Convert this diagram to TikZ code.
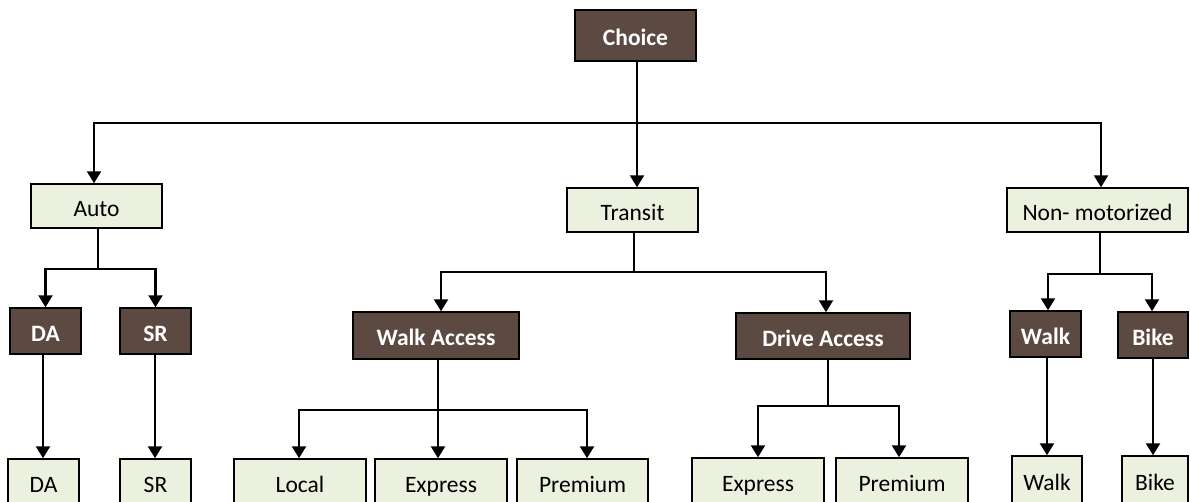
\documentclass[tikz,border=0pt]{standalone}
\usepackage{fontspec}
\setmainfont{Carlito}
\usetikzlibrary{arrows.meta}
\definecolor{darkbox}{HTML}{5C4A42}
\definecolor{lightbox}{HTML}{EBF1DE}
\tikzset{
  basebox/.style={draw=black, line width=1.5pt, inner sep=0pt, anchor=center, text height=20pt, text depth=0pt},
  dbox/.style={basebox, fill=darkbox, text=white, font=\fontsize{23.5}{28}\selectfont\bfseries},
  lbox/.style={basebox, fill=lightbox, text=black, font=\fontsize{23.5}{28}\selectfont},
  conn/.style={draw=black, line width=2.3pt},
  arr/.style={conn, -{Triangle[width=14pt,length=12pt]}}
}
\begin{document}
\begin{tikzpicture}[x=1pt,y=-1pt]
\useasboundingbox (0,0) rectangle (1190,501);
\clip (0,0) rectangle (1190,501);
% top level
\node[dbox, minimum width=121pt, minimum height=51pt] (choice) at (635.5,35.5) {Choice};
% second level
\node[lbox, minimum width=131pt, minimum height=44pt] (auto) at (96.5,206) {Auto};
\node[lbox, minimum width=131pt, minimum height=44pt] (transit) at (632.5,210) {Transit};
\node[lbox, minimum width=181pt, minimum height=44pt] (nonmot) at (1097.5,210) {Non- motorized};
% third level
\node[dbox, minimum width=71pt, minimum height=46pt] (da) at (45.5,331) {DA};
\node[dbox, minimum width=71pt, minimum height=46pt] (sr) at (155.5,331) {SR};
\node[dbox, minimum width=166pt, minimum height=47pt] (walkacc) at (436,335.5) {Walk Access};
\node[dbox, minimum width=174pt, minimum height=46pt] (driveacc) at (823,336) {Drive Access};
\node[dbox, minimum width=71pt, minimum height=46pt] (walk) at (1045.5,334) {Walk};
\node[dbox, minimum width=70pt, minimum height=46pt] (bike) at (1153,335) {Bike};
% bottom level (cut off by the page edge)
\node[lbox, minimum width=71pt, minimum height=60pt] (bda) at (43.5,489) {\raisebox{7pt}{DA}};
\node[lbox, minimum width=71pt, minimum height=60pt] (bsr) at (155.5,489) {\raisebox{7pt}{SR}};
\node[lbox, minimum width=132pt, minimum height=60pt] (local) at (300,489) {\raisebox{7pt}{Local}};
\node[lbox, minimum width=132pt, minimum height=60pt] (wexp) at (441,489) {\raisebox{7pt}{Express}};
\node[lbox, minimum width=131pt, minimum height=60pt] (wprem) at (582.5,489) {\raisebox{7pt}{Premium}};
\node[lbox, minimum width=132pt, minimum height=60pt] (dexp) at (758,488) {\raisebox{7pt}{Express}};
\node[lbox, minimum width=132pt, minimum height=60pt] (dprem) at (902,488) {\raisebox{7pt}{Premium}};
\node[lbox, minimum width=70pt, minimum height=60pt] (bwalk) at (1047,486) {\raisebox{6pt}{Walk}};
\node[lbox, minimum width=66pt, minimum height=60pt] (bbike) at (1155,486) {\raisebox{6pt}{Bike}};
% junctions
\coordinate (j0) at (637,123);
\coordinate (j1) at (98,269);
\coordinate (j2) at (634,272);
\coordinate (j3) at (438,410);
\coordinate (j4) at (828,406);
\coordinate (j5) at (1100,274);
% Choice
\draw[conn] (j0 |- choice.south) -- (j0);
\draw[arr] (j0) -| ([xshift=-2.5pt]auto.north);
\draw[arr] (j0) -- (j0 |- transit.north);
\draw[arr] (j0) -| ([xshift=3.5pt]nonmot.north);
% Auto
\draw[conn] (j1 |- auto.south) -- (j1);
\draw[arr] (j1) -| (da.north);
\draw[arr] (j1) -| (sr.north);
% Transit
\draw[conn] (j2 |- transit.south) -- (j2);
\draw[arr] (j2) -| ([xshift=5pt]walkacc.north);
\draw[arr] (j2) -| ([xshift=3pt]driveacc.north);
% Walk access
\draw[conn] (j3 |- walkacc.south) -- (j3);
\draw[arr] (j3) -| ([xshift=-1pt]local.north);
\draw[arr] (j3) -- (j3 |- wexp.north);
\draw[arr] (j3) -| ([xshift=4.5pt]wprem.north);
% Drive access
\draw[conn] (j4 |- driveacc.south) -- (j4);
\draw[arr] (j4) -| (dexp.north);
\draw[arr] (j4) -| ([xshift=-3pt]dprem.north);
% Non-motorized
\draw[conn] (j5 |- nonmot.south) -- (j5);
\draw[arr] (j5) -| ([xshift=2.5pt]walk.north);
\draw[arr] (j5) -| ([xshift=-1pt]bike.north);
% straight descents
\draw[arr] ([xshift=-2.5pt]da.south) -- ([xshift=-2.5pt]da.south |- bda.north);
\draw[arr] ([xshift=-0.5pt]sr.south) -- ([xshift=-0.5pt]sr.south |- bsr.north);
\draw[arr] ([xshift=1.5pt]walk.south) -- ([xshift=1.5pt]walk.south |- bwalk.north);
\draw[arr] (bike.south) -- (bike.south |- bbike.north);
\end{tikzpicture}
\end{document}
